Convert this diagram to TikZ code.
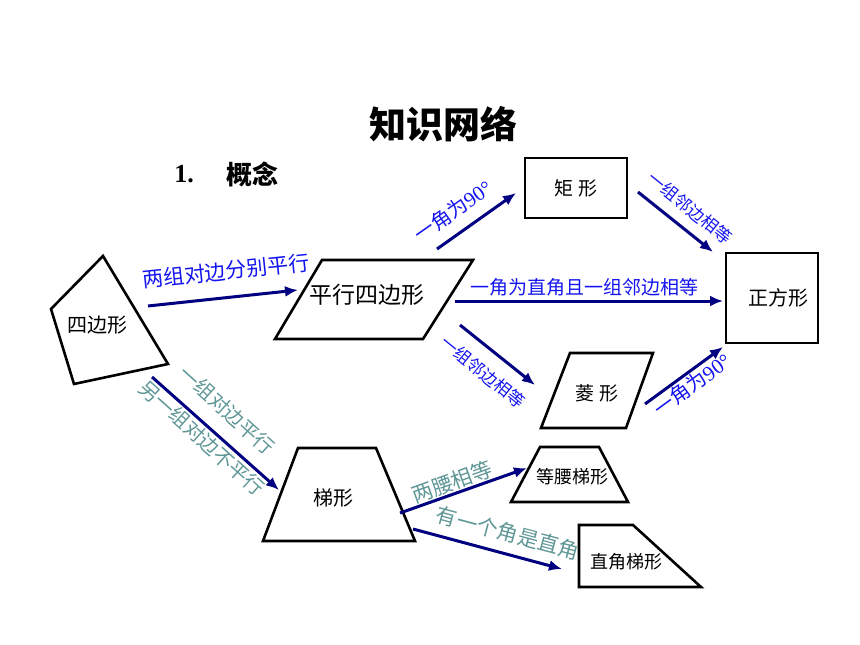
\documentclass[tikz,border=0pt]{standalone}
\usepackage{fontspec}
\setmainfont{Liberation Serif}
\newfontfamily\cjk{Noto Sans CJK SC}
\usetikzlibrary{arrows.meta}
\definecolor{arrowblue}{RGB}{0,0,128}
\definecolor{labelblue}{RGB}{20,20,240}
\definecolor{labelteal}{RGB}{95,150,150}

\begin{document}
\begin{tikzpicture}[x=1pt,y=-1pt]
\tikzstyle{figline}=[draw=black,line width=2.6pt,line join=miter]
\tikzstyle{arr}=[draw=arrowblue,line width=3pt,-{Latex[length=13pt,width=11pt]}]
\tikzstyle{fig}=[inner sep=0pt,font=\cjk\fontsize{#1}{#1}\selectfont]
\tikzstyle{blbl}=[inner sep=0pt,text=labelblue,font=\cjk\fontsize{#1}{#1}\selectfont]
\tikzstyle{tlbl}=[inner sep=0pt,text=labelteal,font=\cjk\fontsize{#1}{#1}\selectfont]
\useasboundingbox (0,0) rectangle (860,645);

\node[inner sep=0pt,font=\cjk\bfseries\fontsize{37}{37}\selectfont](title) at (443,124) {知识网络};
\node[inner sep=0pt,font=\bfseries\fontsize{26}{26}\selectfont](num) at (184,174) {1.};
\node[inner sep=0pt,font=\cjk\bfseries\fontsize{26}{26}\selectfont](gainian) at (252,174) {概念};

\draw[figline] (103,256) -- (168,364) -- (74,384) -- (51,309) -- cycle;
\draw[figline] (322,260) -- (473,260) -- (423,339) -- (275,339) -- cycle;
\draw[figline] (525,158) rectangle (627,218);
\draw[figline] (726,253) rectangle (818,343);
\draw[figline] (570,353) -- (653,353) -- (626,428) -- (541,428) -- cycle;
\draw[figline] (298,448) -- (376,448) -- (415,541) -- (263,541) -- cycle;
\draw[figline] (540,447) -- (599,447) -- (628,502) -- (511,502) -- cycle;
\draw[figline] (579,525) -- (633,525) -- (701,587) -- (579,587) -- cycle;

\node[fig=20](Q) at (97,325) {四边形};
\node[fig=23](P) at (367,295) {平行四边形};
\node[fig=19](R) at (576,188) {矩\ 形};
\node[fig=20](S) at (778,298) {正方形};
\node[fig=19](L) at (597,393) {菱\ 形};
\node[fig=20](T) at (333,498) {梯形};
\node[fig=18](D) at (572,477) {等腰梯形};
\node[fig=18](Z) at (626,562) {直角梯形};

\coordinate (q1) at (148,306); \coordinate (p1) at (298,290);
\coordinate (p2) at (437,249); \coordinate (r1) at (516,193);
\coordinate (r2) at (638,192); \coordinate (s1) at (713,252);
\coordinate (p3) at (455,301); \coordinate (s2) at (723,301);
\coordinate (p4) at (460,325); \coordinate (l1) at (535,385);
\coordinate (l2) at (645,404); \coordinate (s3) at (723,347);
\coordinate (q2) at (152,377); \coordinate (t1) at (279,490);
\coordinate (t2) at (400,513); \coordinate (d1) at (527,468);
\coordinate (t3) at (413,529); \coordinate (z1) at (562,569);

\draw[arr] (q1) -- (p1);
\draw[arr] (p2) -- (r1);
\draw[arr] (r2) -- (s1);
\draw[arr] (p3) -- (s2);
\draw[arr] (p4) -- (l1);
\draw[arr] (l2) -- (s3);
\draw[arr] (q2) -- (t1);
\draw[arr] (t2) -- (d1);
\draw[arr] (t3) -- (z1);

\node[blbl=21,rotate=6](qp) at (226,271) {两组对边分别平行};
\node[blbl=20,rotate=35](pr) at (453,211) {一角为\rmfamily\fontsize{21}{21}\selectfont 90°};
\node[blbl=17,rotate=-39](rs) at (690,208) {一组邻边相等};
\node[blbl=19](ps) at (584,287) {一角为直角且一组邻边相等};
\node[blbl=17,rotate=-39](pl) at (483,372) {一组邻边相等};
\node[blbl=20,rotate=36](ls) at (692,385) {一角为\rmfamily\fontsize{21}{21}\selectfont 90°};
\node[tlbl=20,rotate=-42](qt) at (227,410) {一组对边平行};
\node[tlbl=20,rotate=-42](qt2) at (202,438) {另一组对边不平行};
\node[tlbl=21,rotate=20](td) at (452,482) {两腰相等};
\node[tlbl=21,rotate=-15](tz) at (508,533) {有一个角是直角};
\end{tikzpicture}
\end{document}
